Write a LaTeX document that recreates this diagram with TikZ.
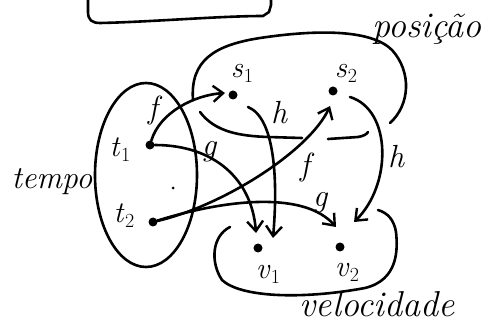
\documentclass[tikz,border=0pt]{standalone}
\usetikzlibrary{arrows.meta}
\newcommand{\subl}[2]{\textit{#1}\kern0.5pt\raisebox{-5pt}{\fontsize{20}{20}\selectfont #2}}
\begin{document}
\begin{tikzpicture}[x=1pt,y=-1pt,
  ink/.style={line width=2.6pt,line cap=round,line join=round},
  arr/.style={ink,-{Straight Barb[length=10pt,width=16pt,line width=2.4pt]}},
  dotpt/.style={circle,fill,inner sep=0pt,minimum size=9pt},
  lbl/.style={font=\fontsize{36}{38}\selectfont\itshape,inner sep=0pt},
  fl/.style={font=\fontsize{32}{34}\selectfont\itshape,inner sep=0pt},
  ml/.style={font=\fontsize{30}{32}\selectfont,inner sep=0pt}]
\useasboundingbox (0,0) rectangle (483,329);
% top box (cut off)
\draw[ink] (88,-3) -- (88,12) .. controls (88,20) and (92,23) .. (100,23)
  .. controls (150,22) and (220,16) .. (263,16) -- (269,12) -- (271,5) -- (271,-3);
% posicao blob
\draw[ink] (193,100) .. controls (190,60) and (215,45) .. (260,38)
  .. controls (320,29) and (372,30) .. (392,50)
  .. controls (412,72) and (410,105) .. (390,123);
\draw[ink] (200,112) .. controls (215,132) and (240,136) .. (268,137) -- (302,138);
\draw[ink] (328,139) -- (358,137) .. controls (364,136) and (367,134) .. (368,132);
% tempo blob
\draw[ink] (146,175) ellipse[x radius=51,y radius=92];
% velocidade blob
\draw[ink] (230,227) .. controls (212,236) and (210,262) .. (222,280)
  .. controls (240,297) and (300,300) .. (365,288)
  .. controls (398,280) and (398,250) .. (396,232)
  .. controls (394,220) and (388,213) .. (378,210);
% points
\node[dotpt] (s1) at (233,95) {};
\node[dotpt] (s2) at (333,91) {};
\node[dotpt] (t1) at (150,145) {};
\node[dotpt] (t2) at (153,222) {};
\node[dotpt] (v1) at (258,248) {};
\node[dotpt] (v2) at (340,247) {};
\node[circle,fill,inner sep=0pt,minimum size=3pt] (sp) at (173,188) {};
% labels
\node[ml] (ls1) at (242,73) {\subl{s}{1}};
\node[ml] (ls2) at (346,73) {\subl{s}{2}};
\node[ml] (lt1) at (120,150) {\subl{t}{1}};
\node[ml] (lt2) at (124,216) {\subl{t}{2}};
\node[ml] (lv1) at (268,274) {\subl{v}{1}};
\node[ml] (lv2) at (347,272) {\subl{v}{2}};
\node[lbl] (pos) at (427,29) {posição};
\node[lbl,font=\fontsize{32}{34}\selectfont\itshape] (tem) at (52,182) {tempo};
\node[lbl] (vel) at (377,304) {velocidade};
% connector end points
\coordinate (h1s) at (248,107);
\coordinate (h1e) at (273,238);
\coordinate (h2s) at (350,97);
\coordinate (h2e) at (354,222);
\coordinate (g1e) at (256,233);
\coordinate (g2e) at (336,227);
\coordinate (f1e) at (225,93);
\coordinate (f2e) at (330,106);
% arrows
\draw[arr] (t1) .. controls (160,112) and (195,95) .. (f1e);
\draw[arr] (t1) .. controls (215,145) and (252,180) .. (g1e);
\draw[arr] (h1s) .. controls (275,118) and (278,180) .. (h1e);
\draw[arr] (h2s) .. controls (392,110) and (392,185) .. (h2e);
\draw[arr] (t2) .. controls (225,205) and (310,150) .. (f2e);
\draw[arr] (t2) .. controls (230,198) and (305,192) .. (g2e);
% function labels
\node[fl] (f1) at (153,111) {f};
\node[fl] (g1) at (209,152) {g};
\node[fl] (h1) at (279,113) {h};
\node[fl] (h2) at (396,157) {h};
\node[fl] (f2) at (305,168) {f};
\node[fl] (g2) at (320,203) {g};
\end{tikzpicture}
\end{document}
